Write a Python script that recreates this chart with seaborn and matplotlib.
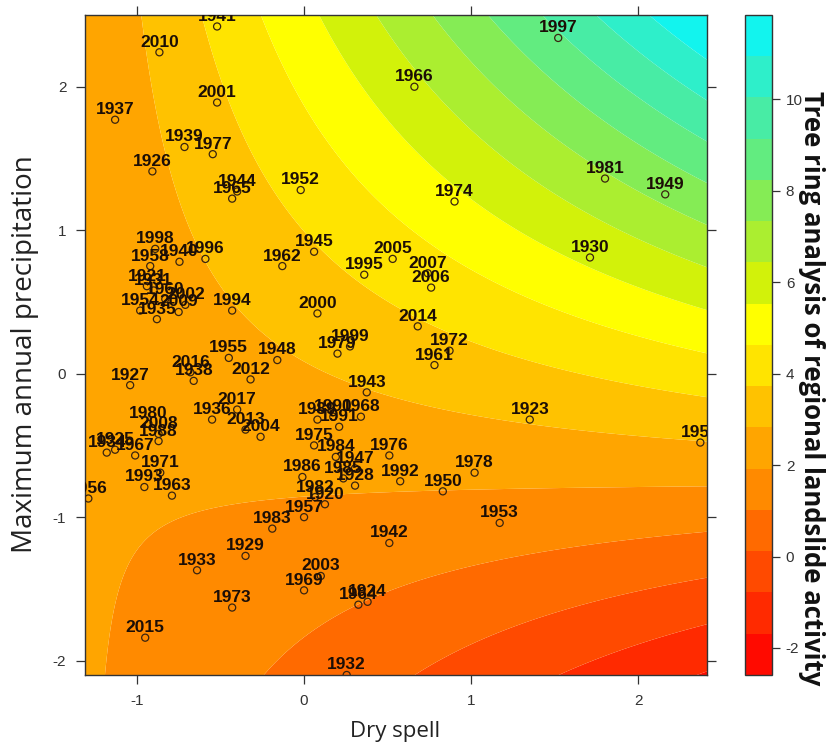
import numpy as np
import pandas as pd
import matplotlib
matplotlib.use("Agg")
import matplotlib.pyplot as plt
import matplotlib.transforms as mtransforms
import seaborn as sns

# points: year, dry spell (x), maximum annual precipitation (y)
years = [1941, 2010, 2001, 1937, 1939, 1977, 1926, 1944, 1965, 1952,
         1997, 1966, 1981, 1949, 1974, 1930, 2005, 2007, 2006, 2014,
         1972, 1961, 1998, 1958, 1940, 1996, 1962, 1945, 1995, 1921,
         1931, 1960, 1954, 2002, 2009, 1935, 1994, 2000, 1955, 1948,
         1979, 1999, 1927, 2016, 1938, 2012, 1943, 2017, 1936, 2013,
         2004, 1989, 1990, 1968, 1991, 1975, 1984, 1976, 1947, 1985,
         1928, 1992, 1950, 1978, 1923, 1959, 1953, 1980, 2008, 1988,
         1925, 1934, 1967, 1971, 1993, 1963, 1956, 1986, 1982, 1920,
         1957, 1983, 1942, 1929, 1933, 2003, 1969, 1973, 1964, 1924,
         2015, 1932]
dry_spell = [-0.52, -0.865, -0.52, -1.13, -0.715, -0.546, -0.907, -0.40, -0.43, -0.02,
             1.52, 0.66, 1.80, 2.16, 0.90, 1.71, 0.53, 0.74, 0.76, 0.68,
             0.87, 0.78, -0.89, -0.92, -0.745, -0.59, -0.13, 0.06, 0.36, -0.94,
             -0.90, -0.83, -0.98, -0.71, -0.75, -0.88, -0.43, 0.08, -0.45, -0.16,
             0.20, 0.275, -1.04, -0.68, -0.66, -0.32, 0.375, -0.40, -0.55, -0.35,
             -0.26, 0.08, 0.175, 0.34, 0.21, 0.06, 0.19, 0.51, 0.305, 0.235,
             0.305, 0.575, 0.83, 1.02, 1.35, 2.37, 1.17, -0.93, -0.87, -0.87,
             -1.13, -1.18, -1.01, -0.86, -0.955, -0.79, -1.29, -0.01, 0.066, 0.125,
             0.0, -0.19, 0.51, -0.35, -0.64, 0.10, 0.0, -0.43, 0.325, 0.38,
             -0.95, 0.255]
max_precip = [2.42, 2.24, 1.89, 1.77, 1.58, 1.53, 1.41, 1.27, 1.22, 1.28,
              2.34, 2.00, 1.36, 1.25, 1.20, 0.81, 0.80, 0.70, 0.60, 0.33,
              0.16, 0.06, 0.87, 0.75, 0.78, 0.80, 0.75, 0.85, 0.69, 0.61,
              0.58, 0.52, 0.44, 0.48, 0.43, 0.38, 0.44, 0.42, 0.11, 0.095,
              0.14, 0.19, -0.08, 0.01, -0.05, -0.04, -0.13, -0.25, -0.32, -0.39,
              -0.44, -0.32, -0.30, -0.30, -0.37, -0.50, -0.58, -0.57, -0.66, -0.73,
              -0.78, -0.75, -0.82, -0.69, -0.32, -0.48, -1.04, -0.35, -0.42, -0.47,
              -0.53, -0.55, -0.57, -0.69, -0.79, -0.85, -0.87, -0.72, -0.86, -0.91,
              -1.00, -1.08, -1.18, -1.27, -1.37, -1.41, -1.51, -1.63, -1.61, -1.59,
              -1.84, -2.10]

# fitted response surface: z = z0 + u*v*(d + e*u + g*v), u = x - x0, v = y - y0
saddle_xy = [-1.30, -0.75]
surface_coef = [2.02, 0.70, 0.02, 0.015]

x_range = [-1.31, 2.41]
y_range = [-2.10, 2.50]
level_min, level_max, n_bands = -2.59, 11.84, 16
band_colors = ["#FF0A00", "#FF2A00", "#FF4A00", "#FF6A00", "#FF8A00", "#FFA500",
               "#FFC200", "#FFE400", "#FFFF00", "#D2F20A", "#ABEE30", "#85EC55",
               "#62EC80", "#48ECA5", "#2EEFCA", "#12F4EE"]
x_ticks = [-1, 0, 1, 2]
y_ticks = [-2, -1, 0, 1, 2]
cbar_ticks = [-2, 0, 2, 4, 6, 8, 10]

df = pd.DataFrame({"year": years, "dry_spell": dry_spell, "max_precip": max_precip})

sns.set_style("ticks")
plt.rcParams["font.family"] = ["Liberation Sans", "DejaVu Sans"]
plt.rcParams["axes.unicode_minus"] = False

fig = plt.figure(figsize=(8.4, 7.46), dpi=100)
ax = fig.add_axes([0.1012, 0.0952, 0.7405, 0.8847])
cax = fig.add_axes([0.8869, 0.0952, 0.0321, 0.8847])

xg = np.linspace(x_range[0], x_range[1], 400)
yg = np.linspace(y_range[0], y_range[1], 400)
X, Y = np.meshgrid(xg, yg)
z0, d, e, g = surface_coef
U = X - saddle_xy[0]
V = Y - saddle_xy[1]
Z = z0 + U * V * (d + e * U + g * V)
Z = np.clip(Z, level_min + 1e-6, level_max - 1e-6)

levels = np.linspace(level_min, level_max, n_bands + 1)
cf = ax.contourf(X, Y, Z, levels=levels, colors=band_colors, antialiased=True)

sns.scatterplot(data=df, x="dry_spell", y="max_precip", ax=ax, marker="o", s=26,
                facecolors="none", edgecolor="#3a2410", linewidth=0.9, legend=False, zorder=3)
ax.collections[-1].set_facecolor("none")

label_shift = mtransforms.offset_copy(ax.transData, fig=fig, x=0, y=4, units="points")
for yr, xv, yv in zip(years, dry_spell, max_precip):
    ax.text(xv, yv, str(yr), transform=label_shift, ha="center", va="baseline",
            fontsize=12.5, fontweight="bold", color="#1c0e06", zorder=4, clip_on=True)

ax.set_xlim(x_range)
ax.set_ylim(y_range)
ax.set_xticks(x_ticks)
ax.set_yticks(y_ticks)
ax.set_xlabel("")
ax.set_ylabel("")
ax.tick_params(direction="out", length=6.5, width=0.9, color="#333333",
               top=True, right=True, labeltop=False, labelright=False,
               labelsize=11, labelcolor="#333333", pad=7)
for sp in ax.spines.values():
    sp.set_visible(True)
    sp.set_color("#333333")
    sp.set_linewidth(1.0)

cb = fig.colorbar(cf, cax=cax, ticks=cbar_ticks)
cb.outline.set_edgecolor("#333333")
cb.outline.set_linewidth(1.0)
cax.tick_params(direction="out", length=6, width=0.9, color="#333333",
                labelsize=11, labelcolor="#333333", pad=4)

fig.text(395 / 840, 1 - 731 / 746, "Dry spell", ha="center", va="center",
         fontsize=16, family=["Open Sans", "DejaVu Sans"], color="#222222")
fig.text(25 / 840, 1 - 354 / 746, "Maximum annual precipitation", ha="center", va="center",
         rotation=90, fontsize=20, family=["Open Sans", "DejaVu Sans"], color="#222222")
fig.text(812 / 840, 1 - 388 / 746, "Tree ring analysis of regional landslide activity",
         ha="center", va="center", rotation=-90, fontsize=18.5, fontweight="bold",
         family=["Open Sans", "DejaVu Sans"], color="#111111")

fig.savefig("out.png", dpi=100)
